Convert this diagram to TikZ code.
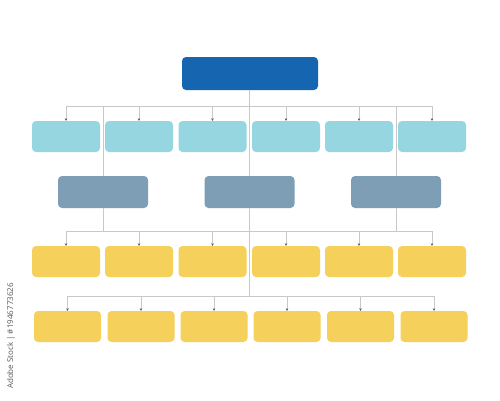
\documentclass[tikz,border=0pt]{standalone}
\usepackage{fontspec}
\setsansfont{Open Sans}
\usetikzlibrary{arrows.meta}
\definecolor{topblue}{HTML}{1565B0}
\definecolor{cyanbox}{HTML}{96D6E0}
\definecolor{greybox}{HTML}{7E9EB6}
\definecolor{yellowbox}{HTML}{F5D05A}
\definecolor{linegrey}{HTML}{C8C8C8}
\definecolor{tipgrey}{HTML}{555555}
\tikzset{
  box/.style={rounded corners=4pt, inner sep=0pt, minimum width=68pt, minimum height=31pt},
  topbox/.style={box, fill=topblue, minimum width=136pt, minimum height=33pt},
  cbox/.style={box, fill=cyanbox},
  gbox/.style={box, fill=greybox, minimum width=90pt, minimum height=32pt},
  ybox/.style={box, fill=yellowbox},
  link/.style={draw=linegrey, line width=0.8pt},
  drop/.style={link, -{Stealth[length=2.5pt, width=2.5pt, color=tipgrey]}},
}
\begin{document}
\begin{tikzpicture}[x=1pt, y=-1pt]
\useasboundingbox[fill=white] (0,0) rectangle (500,400);
% nodes
\node[topbox] (top) at (250,73.5) {};
\foreach \i/\x in {1/66,2/139,3/212.5,4/286,5/359,6/432}{
  \node[cbox] (a\i) at (\x,136.5) {};
  \node[ybox] (c\i) at (\x,261.5) {};
}
\foreach \i/\x in {1/67.5,2/141,3/214,4/287,5/360.5,6/434}{
  \node[ybox, minimum width=67pt] (d\i) at (\x,326.5) {};
}
\node[gbox] (g1) at (103,192) {};
\node[gbox] (g2) at (249.5,192) {};
\node[gbox] (g3) at (396,192) {};
% junction coordinates
\coordinate (h1) at (249,106);
\coordinate (h2) at (249,231);
\coordinate (h3) at (249,296);
% top level
\draw[link] (h1 |- top.south) -- (h1 |- g2.north);
\draw[link] (h1 |- g2.south) -- (h3);
\draw[link] (a1.north |- h1) -- (a6.north |- h1);
\foreach \i in {1,...,6}{ \draw[drop] (a\i.north |- h1) -- (a\i.north); }
\draw[link] (g1.north |- h1) -- (g1.north);
\draw[link] (g3.north |- h1) -- (g3.north);
% third level
\draw[link] (g1.south) -- (g1.south |- h2);
\draw[link] (g3.south) -- (g3.south |- h2);
\draw[link] (c1.north |- h2) -- (c6.north |- h2);
\foreach \i in {1,...,6}{ \draw[drop] (c\i.north |- h2) -- (c\i.north); }
% fourth level
\draw[link] (d1.north |- h3) -- (d6.north |- h3);
\foreach \i in {1,...,6}{ \draw[drop] (d\i.north |- h3) -- (d\i.north); }
% side text
\node[rotate=90, font=\sffamily\fontsize{8}{9}\selectfont, text=black!65, inner sep=0pt] (wm) at (11,336) {Adobe Stock | \#1946773626};
\end{tikzpicture}
\end{document}
